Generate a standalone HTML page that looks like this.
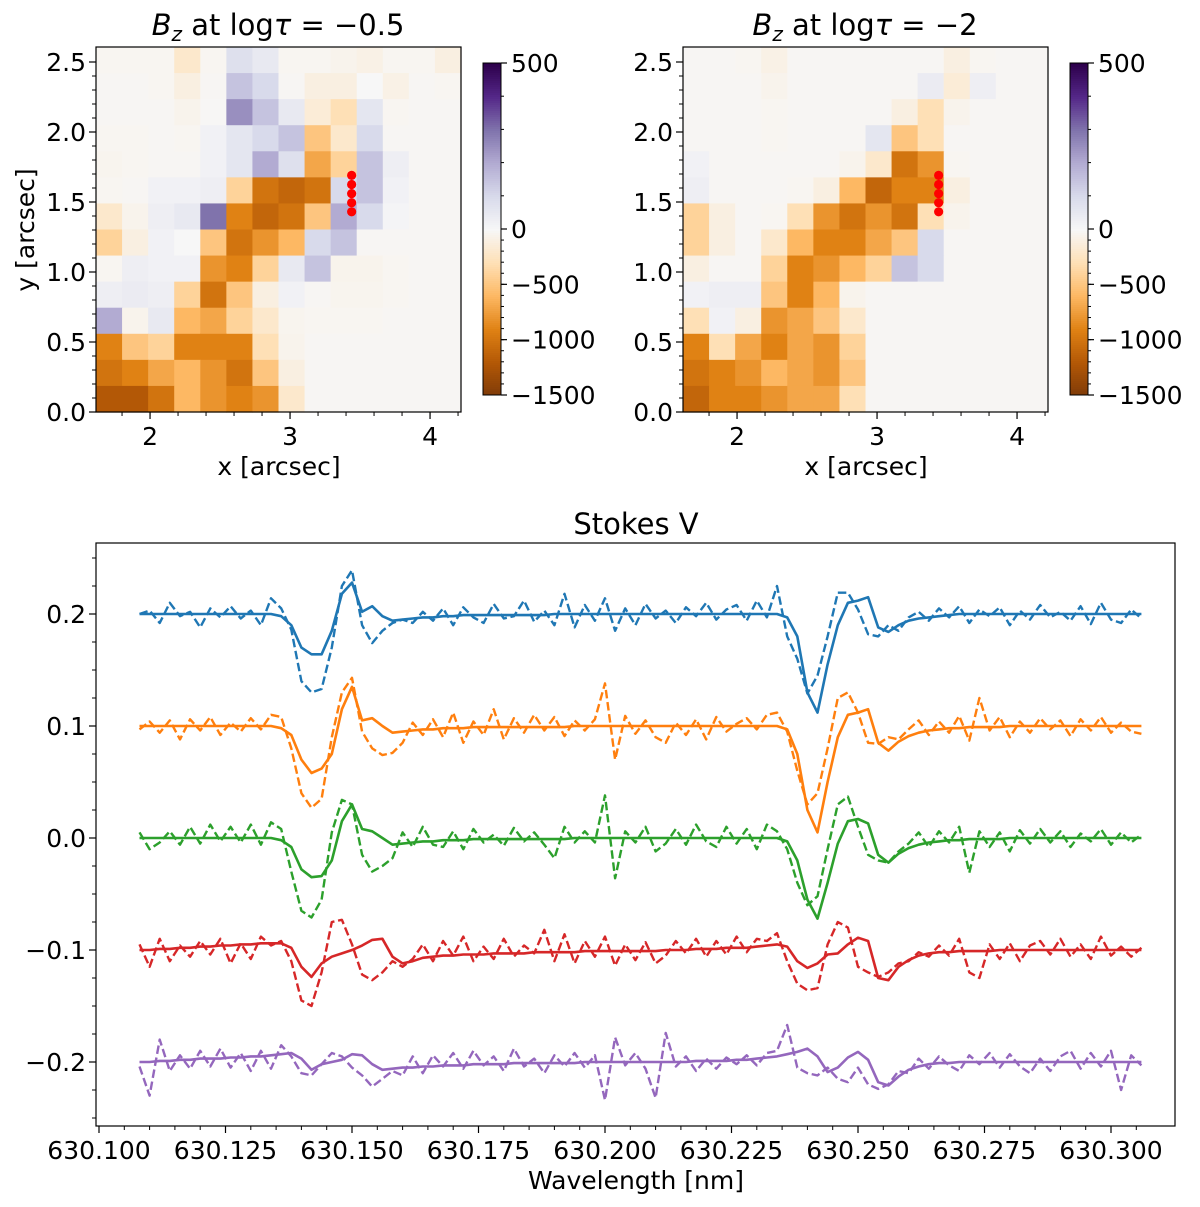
<!DOCTYPE html>
<html><head><meta charset="utf-8"><style>
html,body{margin:0;padding:0;background:#fff;}
svg{display:block;font-family:"DejaVu Sans","Liberation Sans",sans-serif;}
</style></head><body>
<svg id="fig" width="1200" height="1207" viewBox="0 0 1200 1207" xmlns="http://www.w3.org/2000/svg">
<rect x="0" y="0" width="1200" height="1207" fill="#fff"/>
<g id="map1"></g>
<g id="map2"></g>
<g id="spec"></g>
</svg>
<script>
// ---------- heatmap data (Bz in G, 14x14 rows top->bottom) ----------
const mapLeft = [
[-30,-30,-30,-200,-30,80,50,-30,-30,-50,-80,-30,-30,-100],
[-20,-20,-30,-100,-20,150,100,-20,-100,-100,0,-80,-20,-30],
[-20,-20,-20,-50,-10,250,150,50,-150,-300,60,-30,-20,-20],
[-30,-30,-20,-30,20,60,100,150,-500,-200,100,-20,-20,-20],
[-40,-30,-20,-20,20,60,200,80,-700,-400,150,30,-20,-20],
[-30,-20,20,20,30,-400,-1000,-1100,-1000,100,150,20,-20,-20],
[-200,-50,30,50,300,-900,-1100,-1000,-500,200,100,10,-20,-20],
[-400,-100,20,0,-500,-1000,-800,-600,100,150,-20,-20,-20,-20],
[-30,30,20,20,-800,-900,-400,50,150,-50,-50,-30,-20,-20],
[30,40,30,-400,-1000,-500,-100,20,-20,-40,-40,-30,-20,-20],
[200,-50,50,-600,-700,-400,-200,-40,-30,-30,-30,-20,-20,-20],
[-900,-500,-400,-900,-900,-900,-300,-50,-20,-20,-20,-20,-20,-20],
[-1000,-900,-700,-600,-800,-1000,-500,-100,-20,-20,-20,-20,-20,-20],
[-1200,-1200,-1000,-600,-800,-900,-800,-200,-20,-20,-20,-20,-20,-20]];
const mapRight = [
[-20,-20,-30,-80,-20,-20,-20,-20,-20,-20,-100,-30,-20,-20],
[-20,-20,-20,-50,-20,-20,-20,-20,-20,40,-150,30,-20,-20],
[-20,-20,-20,-30,-20,-20,-20,-20,-100,-300,-50,-20,-20,-20],
[-20,-20,-20,-30,-20,-20,-20,60,-500,-300,-20,-20,-20,-20],
[20,-20,-20,-20,-20,-20,-50,-200,-1000,-800,-30,-20,-20,-20],
[30,-20,-20,-20,-30,-100,-600,-1100,-900,-900,-100,-20,-20,-20],
[-400,-100,-20,-30,-300,-800,-1000,-800,-1000,-300,-50,-20,-20,-20],
[-400,-100,-20,-200,-600,-900,-900,-700,-500,100,-20,-20,-20,-20],
[-100,-20,-20,-400,-900,-800,-600,-400,150,100,-20,-20,-20,-20],
[20,30,30,-500,-900,-600,-50,-20,-20,-20,-20,-20,-20,-20],
[-300,20,-100,-800,-700,-500,-200,-20,-20,-20,-20,-20,-20,-20],
[-900,-300,-700,-900,-700,-800,-400,-20,-20,-20,-20,-20,-20,-20],
[-1000,-900,-800,-600,-700,-800,-500,-20,-20,-20,-20,-20,-20,-20],
[-1100,-900,-900,-800,-700,-700,-300,-20,-20,-20,-20,-20,-20,-20]];
const dotYs = [1.69, 1.625, 1.56, 1.495, 1.43];
const dotX = 3.44;
const xTicksMap = [2,3,4];
const yTicksMap = [0.0,0.5,1.0,1.5,2.0,2.5];
const cbTicks = [500,0,-500,-1000,-1500];
const mapTitles = ["-0.5","-2"];

// ---------- spectra data (Stokes V, units of 0.001 relative to offset) ----------
const wlStart = 630.108, wlStep = 0.002;
const offsets = [0.2,0.1,0.0,-0.1,-0.2];
const colors = ["#1f77b4","#ff7f0e","#2ca02c","#d62728","#9467bd"];
const fitBlue = [0,0,0,0,0,0,0,0,0,0, 0,0,0,0,-2,-10,-30,-36,-36,-15, 18,28,2,7,-2,-6,-5,-4,-3,-3, -2,-2,-1,-1,-1,-1,-1,-1,-1,-1, -1,0,0,0,0,0,0,0,0,0, 0,0,0,0,0,0,0,0,0,0, 0,0,0,0,-3,-20,-70,-88,-45,-10, 10,12,15,-12,-16,-10,-6,-4,-3,-2, -1,0,0,0,0,0,0,0,0,0, 0,0,0,0,0,0,0,0,0,0];
const fitOrange = [0,0,0,0,0,0,0,0,0,0, 0,0,0,0,-2,-8,-30,-42,-38,-25, 15,35,5,7,0,-6,-5,-4,-3,-3, -2,-2,-2,-1,-1,-1,-1,-1,-1,-1, -1,-1,-1,0,0,0,0,0,0,0, 0,0,0,0,0,0,0,0,0,0, 0,0,0,0,-3,-25,-75,-95,-50,-10, 10,12,15,-15,-22,-14,-9,-6,-4,-3, -2,-2,-1,-1,-1,-1,0,0,0,0, 0,0,0,0,0,0,0,0,0,0];
const fitGreen = [0,0,0,0,0,0,0,0,0,0, 0,0,0,0,-2,-8,-28,-35,-34,-20, 15,30,8,6,0,-6,-5,-4,-3,-3, -2,-2,-2,-1,-1,-1,-1,-1,-1,-1, -1,-1,-1,0,0,0,0,0,0,0, 0,0,0,0,0,0,0,0,0,0, 0,0,0,0,-3,-20,-55,-72,-40,-5, 15,17,13,-15,-22,-14,-9,-6,-4,-3, -2,-2,-1,-1,-1,-1,0,0,0,0, 0,0,0,0,0,0,0,0,0,0];
const fitRed = [0,0,1,1,2,2,3,3,4,4, 5,5,6,6,6,2,-15,-24,-12,-6, -3,0,4,9,10,-6,-12,-10,-7,-6, -5,-5,-4,-4,-4,-3,-3,-3,-3,-2, -2,-2,-2,-2,-1,-1,-1,-1,-1,-1, -1,-1,0,0,0,1,1,1,2,2, 2,3,4,5,3,-10,-16,-12,-4,-3, 5,11,8,-25,-27,-15,-9,-5,-3,-2, -2,-1,-1,-1,-1,0,0,0,0,0, 0,0,0,0,0,0,0,0,0,0];
const fitPurple = [0,0,1,1,2,2,3,3,3,4, 4,5,5,6,7,8,3,-7,-2,0, 2,7,6,-2,-7,-6,-5,-5,-4,-4, -3,-3,-3,-2,-2,-2,-2,-1,-1,-1, -1,-1,-1,-1,0,0,0,0,0,0, 0,0,0,0,0,1,1,1,1,2, 2,3,4,5,7,9,12,5,-9,-5, 4,9,2,-18,-21,-13,-7,-4,-2,-1, -1,0,0,0,0,0,0,0,0,0, 0,0,0,0,0,0,0,0,0,0];
const obsBlue = [0,3,-8,10,-2,2,-12,5,-3,7, -4,3,-10,14,5,-14,-60,-70,-67,-30, 25,39,-10,-26,-15,-8,-5,-8,2,-6, 5,-10,6,-3,-8,9,-4,-2,12,-7, 3,-10,18,-12,8,-6,14,-15,5,-10, 9,-4,3,-8,6,-2,10,-5,4,8, -6,12,-3,25,-20,-40,-71,-55,-20,19, 19,4,-18,-20,-10,-15,-3,2,-6,5, -3,7,-8,4,-2,6,-10,3,-5,8, -3,2,-6,7,-9,10,-5,-8,4,-4];
const obsOrange = [-3,4,-6,5,-12,6,-4,8,-8,3, -5,7,-3,10,8,-20,-60,-73,-65,-10, 30,43,-5,-20,-26,-24,-15,3,-8,6, -10,12,-15,4,-8,15,-12,7,-6,10, -4,8,-9,5,-4,6,38,-30,9,-7, 5,-10,-15,3,-8,6,-12,8,-5,2, 7,-3,10,12,-5,-40,-70,-60,-20,25, 30,12,-15,-16,-10,-12,-3,5,-8,4, -6,9,-13,25,-4,8,-10,4,-6,7, -3,5,-9,6,-4,8,-6,3,-5,-7];
const obsGreen = [5,-10,-4,6,-6,10,-5,12,-3,10, -4,12,-6,14,8,-30,-65,-71,-55,5, 34,30,-15,-30,-25,-18,5,-8,10,-6, -8,6,-10,8,-4,3,-7,9,-3,5, -6,-18,10,-4,6,-4,38,-36,6,-4, 10,-12,-5,8,-6,12,-3,-8,10,-5, 8,-10,12,6,-10,-40,-60,-52,-10,30, 37,10,-15,-20,-22,-12,-5,5,-8,6, -4,10,-31,6,-8,5,-12,7,-5,8, -4,6,-8,4,-3,8,-6,5,-4,3];
const obsRed = [5,-15,10,-10,4,-6,8,-4,10,-12, 6,-8,12,4,8,-10,-45,-50,-20,25, 27,5,-22,-27,-20,-10,-15,-8,5,-10, 8,-5,12,-10,3,-8,10,-6,4,-3, 18,-10,14,-12,8,-6,12,-14,5,-9, 7,-12,-5,8,-3,10,-6,8,-4,12, -2,10,8,15,-10,-30,-36,-34,5,25, 20,-15,-20,-24,-20,-12,-10,-2,-6,4, -5,10,-20,-25,5,-8,6,-10,4,8, -4,10,-6,5,-8,12,-5,3,-6,2];
const obsPurple = [-4,-30,20,-8,6,-6,10,-4,12,-5, 8,-8,10,-6,15,5,-10,-12,-2,8, 5,-5,-12,-22,-15,-8,-12,5,-10,6, -4,8,-6,10,-3,5,-8,12,-4,3, -10,6,-4,8,-5,6,-34,22,-3,8, -6,-32,26,-4,5,-8,3,-6,4,-2, 6,-3,8,10,33,-5,-10,-12,-5,-15, -18,-5,-20,-24,-20,-8,-10,3,-6,5, -3,-8,6,-2,8,-5,7,-4,-10,3, -8,5,10,-6,8,-4,10,-25,6,-3];
const xTickLabels = ["630.100","630.125","630.150","630.175","630.200","630.225","630.250","630.275","630.300"];
const yTickVals = [0.2,0.1,0.0,-0.1,-0.2];

const NS="http://www.w3.org/2000/svg";
const FS=25;
function mk(tag, attrs, parent, text){
  const e=document.createElementNS(NS,tag);
  for(const k in attrs) e.setAttribute(k, attrs[k]);
  if(text!==undefined) e.textContent=text;
  parent.appendChild(e); return e;
}
const stops=[[127,59,8],[179,88,6],[224,130,20],[253,184,99],[254,224,182],[247,247,247],[216,218,235],[178,171,210],[128,115,172],[84,39,136],[45,0,75]];
function cmap(t){t=Math.max(0,Math.min(1,t));const f=t*10;const i=Math.min(9,Math.floor(f));const u=f-i;
  const a=stops[i],b=stops[i+1];return "rgb("+a.map((v,k)=>Math.round(v+(b[k]-v)*u)).join(",")+")";}
function norm(v){return v<0?0.5+0.5*v/1500:0.5+0.5*v/500;}
const fmt=v=>(v<0?"\u2212":"")+Math.abs(v);

function drawMap(g, data, x0, title, cbx){
  const y0=47, W=365, H=365;
  const sx=v=>x0+(v-1.614)*140, sy=v=>412-v*140;
  const n=data.length, cw=W/n, ch=H/n;
  data.forEach((row,r)=>row.forEach((v,c)=>{
    const rc=mk("rect",{x:(x0+c*cw).toFixed(2),y:(y0+r*ch).toFixed(2),width:(cw+0.6).toFixed(2),height:(ch+0.6).toFixed(2),fill:cmap(norm(v))},g);
    
    
  }));
  dotYs.forEach(yv=>{
    const d=mk("circle",{cx:sx(dotX),cy:sy(yv),r:4.6,fill:"#ff0000"},g);
    
    
  });
  const fr=mk("rect",{x:x0,y:y0,width:W,height:H,fill:"none",stroke:"#000","stroke-width":1.2},g);
  
  
  for(let v=1.8;v<=4.21;v+=0.2){mk("line",{x1:sx(v),x2:sx(v),y1:412,y2:416,stroke:"#000","stroke-width":1},g);}
  xTicksMap.forEach(v=>{mk("line",{x1:sx(v),x2:sx(v),y1:412,y2:419,stroke:"#000","stroke-width":1.2},g);
    const t=mk("text",{x:sx(v),y:445,"font-size":FS,"text-anchor":"middle"},g,String(v));
    
    });
  for(let v=0.1;v<2.6;v+=0.1){mk("line",{x1:x0,x2:x0-4,y1:sy(v),y2:sy(v),stroke:"#000","stroke-width":1},g);}
  yTicksMap.forEach(v=>{mk("line",{x1:x0,x2:x0-7,y1:sy(v),y2:sy(v),stroke:"#000","stroke-width":1.2},g);
    const t=mk("text",{x:x0-10,y:sy(v)+9,"font-size":FS,"text-anchor":"end"},g,v.toFixed(1));
    
    });
  const xl=mk("text",{x:x0+183,y:475,"font-size":FS,"text-anchor":"middle"},g,"x [arcsec]");
  
  
  const tt=mk("text",{x:x0+182,y:35,"font-size":29,"text-anchor":"middle"},g);
  
  
  mk("tspan",{"font-style":"italic"},tt,"B");
  mk("tspan",{"font-style":"italic","font-size":20,dy:6},tt,"z");
  mk("tspan",{dy:-6},tt," at log");
  mk("tspan",{"font-style":"italic"},tt,"\u03c4");
  mk("tspan",{},tt," = \u2212"+title.replace("-",""));
  const cy0=63, cy1=395, cmid=229;
  const cbv=v=>v>=0?cmid-(v/500)*(cmid-cy0):cmid+(-v/1500)*(cy1-cmid);
  const cb=mk("g",{},g);
  
  
  for(let p=cy0;p<cy1;p+=2){
    const v=p<=cmid?500*(cmid-p)/(cmid-cy0):-1500*(p-cmid)/(cy1-cmid);
    mk("rect",{x:cbx,y:p,width:18,height:2.5,fill:cmap(norm(v))},cb);
  }
  mk("rect",{x:cbx,y:cy0,width:18,height:cy1-cy0,fill:"none",stroke:"#000","stroke-width":1},cb);
  for(let v=-1400;v<=400;v+=100){mk("line",{x1:cbx+18,x2:cbx+21,y1:cbv(v),y2:cbv(v),stroke:"#000","stroke-width":1},cb);}
  cbTicks.forEach(v=>{mk("line",{x1:cbx+18,x2:cbx+24,y1:cbv(v),y2:cbv(v),stroke:"#000","stroke-width":1.2},cb);
    const t=mk("text",{x:cbx+28,y:cbv(v)+9,"font-size":FS},cb,fmt(v));
    
    });
}
drawMap(document.getElementById("map1"), mapLeft, 96, mapTitles[0], 483);
drawMap(document.getElementById("map2"), mapRight, 683, mapTitles[1], 1070);
{const t=mk("text",{x:34,y:230,"font-size":FS,"text-anchor":"middle",transform:"rotate(-90 34 230)"},document.getElementById("map1"),"y [arcsec]");

}

// ---------- spectra ----------
const g=document.getElementById("spec");
const L=96,R=1175,T=543,B=1126;
const X=w=>99+(w-630.1)/0.025*126.5;
const Y=v=>838-v*1120;
mk("rect",{x:L,y:T,width:R-L,height:B-T,fill:"none",stroke:"#000","stroke-width":1.2},g);
const fits=[fitBlue,fitOrange,fitGreen,fitRed,fitPurple];
const obs=[obsBlue,obsOrange,obsGreen,obsRed,obsPurple];
const names=["blue","orange","green","red","purple"];
for(let s=0;s<5;s++){
  const pts=a=>a.map((v,i)=>X(wlStart+i*wlStep).toFixed(1)+","+Y(offsets[s]+v/1000).toFixed(1)).join(" ");
  const d=mk("polyline",{points:pts(obs[s]),fill:"none",stroke:colors[s],"stroke-width":2.4,"stroke-dasharray":"8.5,3.7","stroke-linejoin":"round"},g);
  
  
  const f=mk("polyline",{points:pts(fits[s]),fill:"none",stroke:colors[s],"stroke-width":2.6,"stroke-linejoin":"round"},g);
  
  
}
for(let k=0;k<=42;k++){const w=630.095+k*0.005;const x=X(w);if(x<L||x>R)continue;
  mk("line",{x1:x,x2:x,y1:B,y2:B+4,stroke:"#000","stroke-width":1},g);}
xTickLabels.forEach(lbl=>{const x=X(parseFloat(lbl));
  mk("line",{x1:x,x2:x,y1:B,y2:B+7,stroke:"#000","stroke-width":1.2},g);
  const t=mk("text",{x:x,y:1159,"font-size":FS,"text-anchor":"middle"},g,lbl);
  
  });
for(let v=-0.275;v<=0.26;v+=0.025){const y=Y(v);if(y<T||y>B)continue;
  mk("line",{x1:L,x2:L-4,y1:y,y2:y,stroke:"#000","stroke-width":1},g);}
yTickVals.forEach(v=>{const y=Y(v);
  mk("line",{x1:L,x2:L-7,y1:y,y2:y,stroke:"#000","stroke-width":1.2},g);
  const t=mk("text",{x:L-10,y:y+9,"font-size":FS,"text-anchor":"end"},g,(v<0?"\u2212":"")+Math.abs(v).toFixed(1));
  
  });
{const t=mk("text",{x:636,y:534,"font-size":29,"text-anchor":"middle"},g,"Stokes V");


const xl=mk("text",{x:636,y:1189,"font-size":FS,"text-anchor":"middle"},g,"Wavelength [nm]");

}
</script>
</body></html>
